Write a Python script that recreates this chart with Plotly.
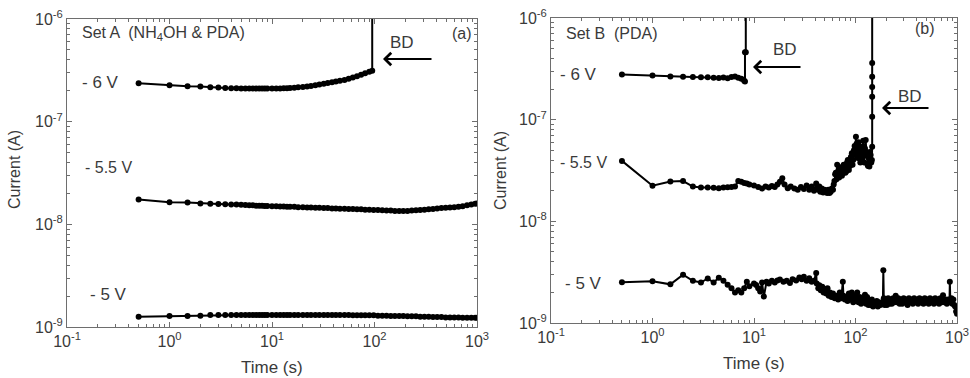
import plotly.graph_objects as go

# ---------------- Set A (NH4OH & PDA) ----------------
# -6 V stress: slow rise, then breakdown near 95 s
a6_t = [0.5, 1, 1.5, 2, 2.5, 3, 3.5, 4, 4.5, 5, 5.5, 6, 6.5, 7, 7.5, 8, 8.5, 9,
        10, 11, 12, 13, 14, 15, 16.5, 18, 20, 22, 24, 26.5, 29, 32, 35, 38.5, 42,
        46, 51, 56, 61.5, 67.5, 74, 81, 89, 95, 95]
a6_i = [2.37e-7, 2.26e-7, 2.21e-7, 2.20e-7, 2.16e-7, 2.15e-7, 2.13e-7, 2.12e-7,
        2.11e-7, 2.10e-7, 2.10e-7, 2.10e-7, 2.10e-7, 2.10e-7, 2.10e-7, 2.10e-7,
        2.10e-7, 2.10e-7, 2.10e-7, 2.10e-7, 2.10e-7, 2.11e-7, 2.12e-7, 2.13e-7,
        2.14e-7, 2.16e-7, 2.18e-7, 2.20e-7, 2.22e-7, 2.26e-7, 2.30e-7, 2.34e-7,
        2.38e-7, 2.42e-7, 2.46e-7, 2.50e-7, 2.55e-7, 2.62e-7, 2.69e-7, 2.77e-7,
        2.87e-7, 2.96e-7, 3.06e-7, 3.14e-7, 3.0e-6]

# -5.5 V and -5 V stress share the same sampling times (no breakdown)
a_long_t = [0.5, 1, 1.5, 2, 2.5, 3, 3.5, 4, 4.5, 5, 5.5, 6, 6.5, 7, 7.5, 8, 8.5, 9,
            10, 11, 12, 13, 14, 15, 16.5, 18, 20, 22, 24, 26.5, 29, 32, 35, 38.5,
            42, 46, 51, 56, 61.5, 67.5, 74, 81, 89, 98, 108, 119, 131, 144, 158,
            174, 191, 210, 231, 254, 279, 307, 338, 372, 409, 450, 495, 545, 600,
            660, 725, 800, 880, 960, 1000]
a55_i = [1.75e-8, 1.64e-8, 1.63e-8, 1.60e-8, 1.59e-8, 1.58e-8, 1.57e-8, 1.56e-8,
         1.56e-8, 1.55e-8, 1.54e-8, 1.53e-8, 1.53e-8, 1.52e-8, 1.52e-8, 1.52e-8,
         1.51e-8, 1.51e-8, 1.50e-8, 1.50e-8, 1.49e-8, 1.49e-8, 1.48e-8, 1.48e-8,
         1.48e-8, 1.47e-8, 1.47e-8, 1.46e-8, 1.46e-8, 1.45e-8, 1.45e-8, 1.44e-8,
         1.44e-8, 1.43e-8, 1.43e-8, 1.42e-8, 1.42e-8, 1.41e-8, 1.41e-8, 1.40e-8,
         1.40e-8, 1.39e-8, 1.39e-8, 1.38e-8, 1.38e-8, 1.37e-8, 1.36e-8, 1.36e-8,
         1.35e-8, 1.35e-8, 1.35e-8, 1.35e-8, 1.36e-8, 1.37e-8, 1.38e-8, 1.39e-8,
         1.40e-8, 1.41e-8, 1.43e-8, 1.44e-8, 1.45e-8, 1.46e-8, 1.47e-8, 1.48e-8,
         1.50e-8, 1.53e-8, 1.56e-8, 1.59e-8, 1.60e-8]
a5_i = [1.26e-9, 1.28e-9, 1.28e-9, 1.29e-9, 1.31e-9, 1.31e-9, 1.31e-9, 1.31e-9,
        1.31e-9, 1.31e-9, 1.31e-9, 1.31e-9, 1.31e-9, 1.31e-9, 1.31e-9, 1.31e-9,
        1.31e-9, 1.31e-9, 1.31e-9, 1.31e-9, 1.31e-9, 1.31e-9, 1.31e-9, 1.31e-9,
        1.31e-9, 1.31e-9, 1.31e-9, 1.31e-9, 1.31e-9, 1.31e-9, 1.31e-9, 1.31e-9,
        1.31e-9, 1.31e-9, 1.31e-9, 1.31e-9, 1.31e-9, 1.31e-9, 1.30e-9, 1.30e-9,
        1.30e-9, 1.30e-9, 1.30e-9, 1.30e-9, 1.29e-9, 1.29e-9, 1.29e-9, 1.28e-9,
        1.28e-9, 1.28e-9, 1.28e-9, 1.27e-9, 1.27e-9, 1.27e-9, 1.26e-9, 1.26e-9,
        1.26e-9, 1.25e-9, 1.25e-9, 1.25e-9, 1.24e-9, 1.24e-9, 1.24e-9, 1.24e-9,
        1.23e-9, 1.23e-9, 1.23e-9, 1.23e-9, 1.23e-9]

# ---------------- Set B (PDA) ----------------
b6_t = [0.5, 1, 1.5, 2, 2.5, 3, 3.5, 4, 4.5, 5, 5.5, 6, 6.5, 7, 7.5, 8, 8.15,
        8.15, 8.3, 8.3]
b6_i = [2.78e-7, 2.72e-7, 2.66e-7, 2.65e-7, 2.63e-7, 2.61e-7, 2.62e-7, 2.58e-7,
        2.57e-7, 2.60e-7, 2.56e-7, 2.63e-7, 2.66e-7, 2.58e-7, 2.52e-7, 2.42e-7,
        2.38e-7, 4.6e-7, 4.6e-7, 3.0e-6]

b55_t = [0.5, 1, 1.5, 2, 2.5, 3, 3.5, 4, 4.5, 5, 5.5, 6, 6.5, 7, 7.5, 8, 8.5, 9,
         10, 11, 12, 13, 14, 15, 16, 17, 18, 19, 20, 21.5, 23, 25, 27, 29, 31, 33,
         35, 37, 39, 41, 42, 43, 44, 45, 46.5, 48, 49.5, 51, 52.5, 54, 55.5, 57,
         58.5, 60, 61, 62, 63, 64, 65, 66, 67, 68, 69, 70, 71, 72, 73.5, 75, 76.5,
         78, 79.5, 81, 82.5, 84, 86, 88, 90, 92, 93.5, 95, 96.5, 98, 99.5, 101,
         102.5, 104, 105.5, 107, 108.5, 110, 111.5, 113, 114.5, 116, 117.5, 119,
         120.5, 122, 124, 126, 128, 130, 131.5, 133, 135, 137, 139, 141, 143, 145,
         146, 146, 146, 146, 146, 146, 146]
b55_i = [3.93e-8, 2.24e-8, 2.47e-8, 2.49e-8, 2.20e-8, 2.15e-8, 2.15e-8, 2.14e-8,
         2.12e-8, 2.15e-8, 2.16e-8, 2.18e-8, 2.20e-8, 2.49e-8, 2.45e-8, 2.38e-8,
         2.35e-8, 2.30e-8, 2.25e-8, 2.18e-8, 2.10e-8, 2.20e-8, 2.15e-8, 2.22e-8,
         2.18e-8, 2.30e-8, 2.45e-8, 2.65e-8, 2.30e-8, 2.12e-8, 2.20e-8, 2.10e-8,
         2.05e-8, 2.18e-8, 2.08e-8, 2.25e-8, 2.05e-8, 2.20e-8, 2.00e-8, 2.35e-8,
         2.10e-8, 2.05e-8, 2.20e-8, 1.95e-8, 2.10e-8, 1.92e-8, 2.05e-8, 2.00e-8,
         1.90e-8, 2.05e-8, 1.90e-8, 1.95e-8, 2.10e-8, 2.05e-8, 2.30e-8, 2.50e-8,
         2.90e-8, 3.00e-8, 2.60e-8, 3.60e-8, 2.90e-8, 3.20e-8, 2.70e-8, 2.80e-8,
         3.30e-8, 3.40e-8, 2.80e-8, 2.97e-8, 3.60e-8, 3.50e-8, 3.00e-8, 3.10e-8,
         3.80e-8, 4.00e-8, 3.20e-8, 3.50e-8, 4.30e-8, 4.67e-8, 3.60e-8, 4.00e-8,
         5.00e-8, 5.50e-8, 4.50e-8, 6.80e-8, 5.80e-8, 5.00e-8, 4.20e-8, 6.00e-8,
         5.20e-8, 4.20e-8, 3.80e-8, 5.40e-8, 4.60e-8, 4.00e-8, 5.00e-8, 6.20e-8,
         4.40e-8, 3.80e-8, 5.20e-8, 6.30e-8, 4.80e-8, 4.50e-8, 3.60e-8, 3.50e-8,
         4.20e-8, 3.46e-8, 4.80e-8, 4.50e-8, 3.80e-8, 4.00e-8, 5.40e-8, 1.07e-7,
         1.68e-7, 2.10e-7, 2.65e-7, 3.60e-7, 3.0e-6]

b5_t = [0.5, 1, 1.5, 2, 2.5, 3, 3.5, 4, 4.5, 5, 5.5, 6, 6.5, 7, 7.5, 8, 8.5, 9,
        10, 10.5, 11, 11.5, 12, 12.5, 13.3, 14, 15, 16, 17, 18, 19.5, 21, 22.6,
        24, 26, 28, 29.5, 31, 33, 35, 37, 39, 41, 41.5, 43, 44, 45.5, 47, 48.5,
        50, 51.5, 53, 54.5, 56, 58, 60, 62.5, 65, 67.5, 70, 72.5, 75, 76, 78.5,
        81, 83.5, 86, 89, 92, 95, 98, 101, 104, 107, 110, 113.5, 117, 120.5, 124,
        127, 130, 134, 137, 141, 145, 149, 153, 157, 162, 166, 171, 176, 181,
        186, 188, 190, 194, 199, 204, 210, 216, 222, 228, 235, 242, 249, 256,
        264, 272, 280, 289, 298, 307, 316, 326, 336, 346, 356, 367, 378, 390,
        402, 414, 427, 440, 453, 467, 481, 495, 510, 526, 542, 558, 575, 592,
        610, 628, 647, 666, 686, 707, 728, 750, 772, 795, 819, 843, 850, 860,
        880, 900, 920, 940, 960, 980, 1000]
b5_i = [2.52e-9, 2.57e-9, 2.40e-9, 2.99e-9, 2.60e-9, 2.50e-9, 2.74e-9, 2.50e-9,
        2.78e-9, 2.60e-9, 2.38e-9, 2.20e-9, 2.00e-9, 2.10e-9, 2.00e-9, 2.20e-9,
        2.55e-9, 2.30e-9, 2.45e-9, 2.36e-9, 2.20e-9, 2.04e-9, 2.50e-9, 1.82e-9,
        2.55e-9, 2.45e-9, 2.60e-9, 2.50e-9, 2.62e-9, 2.68e-9, 2.55e-9, 2.60e-9,
        2.47e-9, 2.70e-9, 2.62e-9, 2.80e-9, 2.70e-9, 2.85e-9, 2.60e-9, 2.75e-9,
        2.55e-9, 2.60e-9, 3.10e-9, 2.45e-9, 2.20e-9, 2.35e-9, 2.10e-9, 2.27e-9,
        2.00e-9, 2.15e-9, 1.95e-9, 2.20e-9, 1.85e-9, 2.00e-9, 1.80e-9, 1.95e-9,
        1.75e-9, 1.85e-9, 1.70e-9, 2.00e-9, 1.75e-9, 2.55e-9, 1.85e-9, 1.70e-9,
        1.80e-9, 1.65e-9, 1.95e-9, 1.70e-9, 2.00e-9, 1.60e-9, 1.85e-9, 1.65e-9,
        2.00e-9, 1.60e-9, 1.80e-9, 1.55e-9, 1.75e-9, 1.60e-9, 1.90e-9, 1.55e-9,
        1.80e-9, 1.50e-9, 1.65e-9, 1.50e-9, 1.70e-9, 1.45e-9, 1.60e-9, 1.50e-9,
        1.65e-9, 1.45e-9, 1.60e-9, 1.50e-9, 1.55e-9, 1.60e-9, 3.30e-9, 1.75e-9,
        1.50e-9, 1.65e-9, 1.50e-9, 1.75e-9, 1.55e-9, 1.70e-9, 1.55e-9, 1.75e-9,
        1.60e-9, 1.85e-9, 1.60e-9, 1.75e-9, 1.55e-9, 1.70e-9, 1.55e-9, 1.75e-9,
        1.60e-9, 1.70e-9, 1.50e-9, 1.75e-9, 1.60e-9, 1.70e-9, 1.55e-9, 1.75e-9,
        1.60e-9, 1.70e-9, 1.55e-9, 1.75e-9, 1.60e-9, 1.70e-9, 1.55e-9, 1.75e-9,
        1.60e-9, 1.70e-9, 1.55e-9, 1.75e-9, 1.60e-9, 1.70e-9, 1.55e-9, 1.75e-9,
        1.60e-9, 1.70e-9, 1.55e-9, 1.75e-9, 1.60e-9, 1.87e-9, 1.60e-9, 1.70e-9,
        1.55e-9, 1.70e-9, 1.60e-9, 2.55e-9, 1.65e-9, 1.75e-9, 1.55e-9, 1.70e-9,
        1.50e-9, 1.45e-9, 1.30e-9, 1.23e-9]

for _t, _i in [(a6_t, a6_i), (a_long_t, a55_i), (a_long_t, a5_i),
               (b6_t, b6_i), (b55_t, b55_i), (b5_t, b5_i)]:
    assert len(_t) == len(_i), (len(_t), len(_i))

X_TICKS = [0.1, 1, 10, 100, 1000]
X_TICKTEXT = ["10<sup>-1</sup>", "10<sup>0</sup>", "10<sup>1</sup>",
              "10<sup>2</sup>", "10<sup>3</sup>"]
Y_TICKS = [1e-9, 1e-8, 1e-7, 1e-6]
Y_TICKTEXT = ["10<sup>-9</sup>", "10<sup>-8</sup>", "10<sup>-7</sup>",
              "10<sup>-6</sup>"]

W, H = 970, 378
FONT = "Liberation Sans, Arial, sans-serif"
TXT = "#3a3a3a"
FRAME = "#6e6e6e"


def px(x):
    return x / W


def py(y):
    return 1 - y / H


fig = go.Figure()


def add_series(t, i, xa, ya, msize=6, lw=2):
    fig.add_trace(go.Scatter(
        x=t, y=i, xaxis=xa, yaxis=ya, mode="lines+markers",
        line=dict(color="black", width=lw),
        marker=dict(color="black", size=msize, symbol="circle"),
        showlegend=False, hoverinfo="x+y"))


add_series(a6_t, a6_i, "x", "y")
add_series(a_long_t, a55_i, "x", "y")
add_series(a_long_t, a5_i, "x", "y")
add_series(b6_t, b6_i, "x2", "y2")
add_series(b55_t, b55_i, "x2", "y2")
add_series(b5_t, b5_i, "x2", "y2")

minor_x = [m * 10 ** e for e in range(-1, 3) for m in range(2, 10)]
minor_y = [m * 10.0 ** e for e in range(-9, -6) for m in range(2, 10)]


def axis_common(ticks, ticktext, minor):
    return dict(type="log", tickmode="array", tickvals=ticks, ticktext=ticktext,
                ticks="inside", ticklen=5, tickcolor=FRAME, tickwidth=1,
                minor=dict(tickmode="array", tickvals=minor, ticks="inside",
                           ticklen=3, tickcolor=FRAME, showgrid=False),
                showline=True, linecolor=FRAME, linewidth=1, mirror="ticks",
                showgrid=False, zeroline=False,
                tickfont=dict(family=FONT, size=16, color=TXT))


def xaxis(domain, anchor):
    d = axis_common(X_TICKS, X_TICKTEXT, minor_x)
    d.update(range=[-1, 3], domain=domain, anchor=anchor)
    return d


def yaxis(domain, anchor):
    d = axis_common(Y_TICKS, Y_TICKTEXT, minor_y)
    d.update(range=[-9, -6], domain=domain, anchor=anchor)
    return d


fig.update_layout(
    width=W, height=H,
    margin=dict(l=0, r=0, t=0, b=0, autoexpand=False),
    paper_bgcolor="white", plot_bgcolor="white",
    xaxis=xaxis([px(67), px(477)], "y"),
    yaxis=yaxis([py(327), py(19)], "x"),
    xaxis2=xaxis([px(551), px(957)], "y2"),
    yaxis2=yaxis([py(323), py(18)], "x2"),
)

ann = []


def label(x, y, text, anchor="left", size=16, angle=0):
    ann.append(dict(x=px(x), y=py(y), xref="paper", yref="paper", text=text,
                    showarrow=False, xanchor=anchor, yanchor="middle",
                    textangle=angle, borderpad=0,
                    font=dict(family=FONT, size=size, color=TXT)))


def arrow(x_head, x_tail, y):
    ann.append(dict(x=px(x_head), y=py(y), xref="paper", yref="paper",
                    ax=x_tail - x_head, ay=0, text="", showarrow=True,
                    arrowhead=4, arrowsize=1.1, arrowwidth=2.2,
                    arrowcolor="black"))


# panel (a)
label(81, 33, "Set A  (NH<sub>4</sub>OH &amp; PDA)", size=16)
label(473, 33, "(a)", anchor="right", size=16)
label(81, 83, "- 6 V", size=17)
label(84, 167, "- 5.5 V", size=16)
label(89, 294, "- 5 V", size=17)
label(402, 43, "BD", anchor="center", size=17)
arrow(383, 433, 59)
label(272, 367, "Time (s)", anchor="center", size=17)
label(14, 170, "Current (A)", anchor="center", size=16, angle=-90)

# panel (b)
label(565, 33, "Set B  (PDA)", size=16)
label(936, 28, "(b)", anchor="right", size=16)
label(559, 75, "- 6 V", size=17)
label(559, 162, "- 5.5 V", size=16)
label(564, 283, "- 5 V", size=17)
label(785, 49, "BD", anchor="center", size=17)
arrow(753, 802, 67)
label(910, 96, "BD", anchor="center", size=17)
arrow(882, 930, 108)
label(754, 363, "Time (s)", anchor="center", size=17)
label(500, 170, "Current (A)", anchor="center", size=16, angle=-90)

fig.update_layout(annotations=ann)

fig.write_html("out.html")
